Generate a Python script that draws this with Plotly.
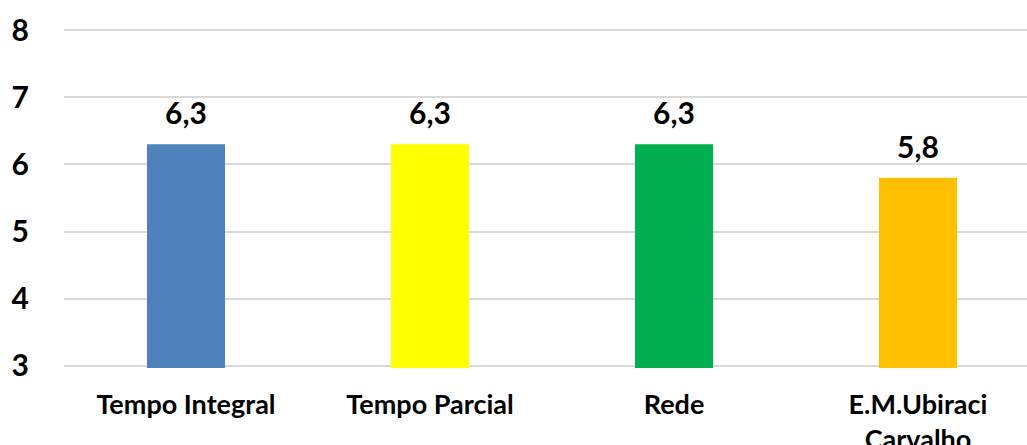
import plotly.graph_objects as go

# dados
categorias = ["Tempo Integral", "Tempo Parcial", "Rede", "E.M.Ubiraci<br>Carvalho"]
valores = [6.3, 6.3, 6.3, 5.8]
cores = ["#4F81BD", "#FFFF00", "#00B050", "#FFC000"]
ticks_y = [3, 4, 5, 6, 7, 8]

FONTE = "Lato, 'Open Sans', Arial, sans-serif"

fig = go.Figure(
    go.Bar(
        x=categorias,
        y=valores,
        marker=dict(color=cores, line=dict(width=0)),
        width=0.32,
        hoverinfo="x+y",
    )
)

# rótulos de valor acima das barras
for cat, v in zip(categorias, valores):
    fig.add_annotation(
        x=cat, y=v,
        text=f"{v:.1f}".replace(".", ","),
        showarrow=False,
        yanchor="bottom",
        yshift=12,
        font=dict(family=FONTE, size=30, color="#000000", weight="bold"),
    )

# a área do gráfico passa um pouco da borda direita, como no original
fig.update_layout(
    width=1040,
    height=445,
    margin=dict(l=64, r=0, t=28, b=77),
    plot_bgcolor="white",
    paper_bgcolor="white",
    showlegend=False,
)

fig.update_yaxes(
    range=[2.97, 8.03],
    tickvals=ticks_y,
    showgrid=True,
    gridcolor="#D9D9D9",
    gridwidth=2,
    zeroline=False,
    showline=False,
    ticks="",
    automargin=False,
    ticklabelstandoff=34,
    tickfont=dict(family=FONTE, size=30, color="#000000", weight="bold"),
)

fig.update_xaxes(
    showgrid=False,
    showline=False,
    ticks="",
    automargin=False,
    ticklabelstandoff=18,
    tickfont=dict(family=FONTE, size=27, color="#000000", weight="bold"),
)

fig.write_html(
    "out.html",
    config={"displayModeBar": False},
    post_script="document.body.style.margin='0';document.body.style.overflow='hidden';",
)
